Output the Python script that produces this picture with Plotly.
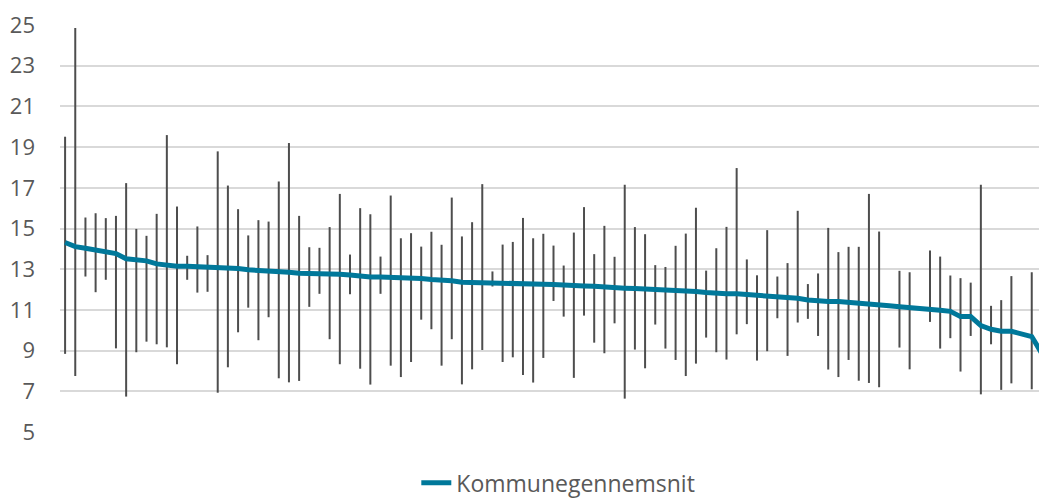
import plotly.graph_objects as go

# Municipalities ranked by average (97 categories, no visible labels)
categories = list(range(1, 98))

kommune_avg = [
    14.31, 14.11, 14.03, 13.95, 13.84, 13.77, 13.51, 13.44, 13.41, 13.26,
    13.18, 13.15, 13.15, 13.13, 13.11, 13.10, 13.07, 13.03, 12.97, 12.95,
    12.93, 12.89, 12.85, 12.80, 12.80, 12.79, 12.77, 12.75, 12.72, 12.64,
    12.62, 12.62, 12.61, 12.57, 12.56, 12.54, 12.49, 12.48, 12.43, 12.36,
    12.34, 12.34, 12.33, 12.33, 12.31, 12.30, 12.28, 12.26, 12.25, 12.21,
    12.20, 12.18, 12.16, 12.15, 12.10, 12.07, 12.05, 12.03, 12.02, 11.98,
    11.95, 11.93, 11.90, 11.85, 11.80, 11.79, 11.79, 11.75, 11.72, 11.70,
    11.69, 11.62, 11.57, 11.49, 11.44, 11.41, 11.41, 11.38, 11.31, 11.28,
    11.25, 11.20, 11.15, 11.12, 11.07, 11.00, 10.98, 10.93, 10.67, 10.67,
    10.23, 10.05, 9.95, 9.95, 9.79, 9.69, 8.85,
]

high_values = [
    19.51, 24.85, 15.54, 15.75, 15.51, 15.62, 17.23, 14.98, 14.64, 15.72,
    19.59, 16.08, 13.66, 15.10, 13.69, 18.79, 17.11, 15.95, 14.66, 15.41,
    15.34, 17.31, 19.20, 15.62, 14.08, 14.05, 15.07, 16.70, 13.72, 16.00,
    15.70, 13.62, 16.62, 14.52, 14.77, 14.11, 14.84, 14.20, 16.52, 14.61,
    15.31, 17.18, 12.89, 14.21, 14.34, 15.52, 14.52, 14.74, 14.16, 13.18,
    14.80, 16.05, 13.74, 15.13, 13.61, 17.15, 15.07, 14.72, 13.20, 13.11,
    14.15, 14.75, 16.02, 12.93, 14.03, 15.08, 17.97, 13.48, 12.70, 14.92,
    12.64, 13.30, 15.87, 12.27, 12.79, 15.03, 13.84, 14.10, 14.10, 16.70,
    14.85, None, 12.92, 12.85, None, 13.92, 13.62, 12.69, 12.56, 12.34,
    17.15, 11.20, 11.48, 12.66, None, 12.85, None,
]

low_values = [
    8.84, 7.75, 12.64, 11.87, 12.48, 9.11, 6.74, 8.92, 9.44, 9.31,
    9.16, 8.33, 12.48, 11.85, 11.89, 6.93, 8.18, 9.90, 11.11, 9.51,
    10.64, 7.64, 7.44, 7.51, 11.15, 11.79, 9.56, 8.33, 11.77, 8.11,
    7.33, 11.79, 8.26, 7.70, 8.44, 10.52, 10.05, 8.26, 9.56, 7.34,
    8.08, 9.03, 12.15, 8.44, 8.67, 7.80, 7.43, 8.64, 11.44, 10.67,
    7.66, 10.72, 9.39, 8.87, 10.34, 6.64, 9.05, 8.13, 10.28, 9.10,
    8.54, 7.75, 8.36, 9.64, 8.92, 8.56, 9.80, 10.30, 8.51, 8.97,
    10.59, 8.74, 10.38, 10.56, 9.72, 8.07, 7.70, 8.54, 7.52, 7.41,
    7.20, None, 9.15, 8.08, None, 10.41, 9.10, 9.61, 7.97, 9.72,
    6.85, 9.31, 7.07, 7.39, None, 7.10, None,
]

y_ticks = [5, 7, 9, 11, 13, 15, 17, 19, 21, 23, 25]

# Build high-low segments from the data
seg_x, seg_y = [], []
for c, hi, lo in zip(categories, high_values, low_values):
    if hi is None or lo is None:
        continue
    seg_x += [c, c, None]
    seg_y += [lo, hi, None]

fig = go.Figure()
fig.add_trace(go.Scatter(
    x=seg_x, y=seg_y, mode="lines",
    line=dict(color="#4d4d4d", width=2),
    showlegend=False, hoverinfo="skip",
))
fig.add_trace(go.Scatter(
    x=categories, y=kommune_avg, mode="lines",
    name="Kommunegennemsnit",
    line=dict(color="#00789a", width=5),
))

font_family = "Open Sans"
# The page body adds an 8px offset, so the figure is sized to fit the window.
fig.update_layout(
    width=1039, height=490,
    margin=dict(l=52, r=0, t=17, b=66, autoexpand=False),
    paper_bgcolor="white", plot_bgcolor="white",
    font=dict(family=font_family, size=22, color="#595959"),
    showlegend=True,
    legend=dict(
        orientation="h", x=0.361, xanchor="left",
        yref="container", y=0.031, yanchor="middle",
        font=dict(family=font_family, size=23, color="#595959"),
        bgcolor="rgba(0,0,0,0)",
    ),
    xaxis=dict(
        range=[0.5, 97.5], showgrid=False, zeroline=False,
        showticklabels=False, ticks="", showline=False, automargin=False,
    ),
    yaxis=dict(
        range=[5, 25], tickvals=y_ticks, ticktext=[str(v) for v in y_ticks],
        showgrid=True, gridcolor="#d9d9d9", gridwidth=1.5,
        zeroline=False, showline=False, ticks="",
        ticklabelstandoff=24, automargin=False,
        tickfont=dict(family=font_family, size=22, color="#595959"),
    ),
)

fig.write_html("out.html")
